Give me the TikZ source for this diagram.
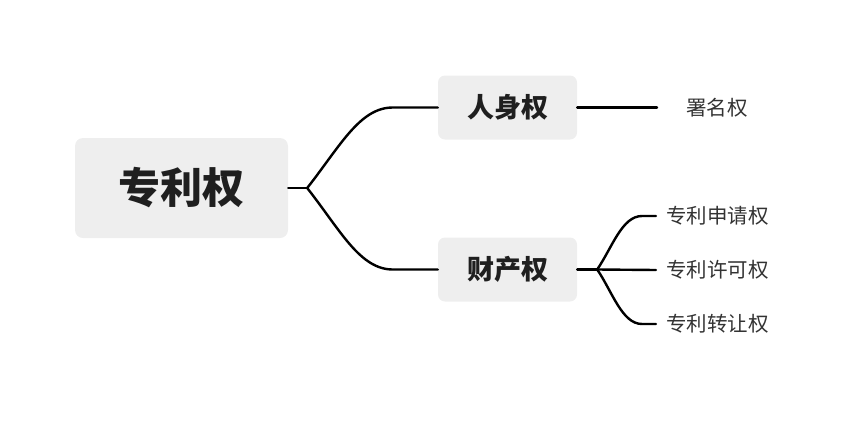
\documentclass[tikz,border=0pt]{standalone}
\usepackage{fontspec}
\setmainfont{Noto Sans CJK SC}
\definecolor{boxfill}{HTML}{EEEEEE}
\definecolor{boxtext}{HTML}{1F1F1F}
\definecolor{leaftext}{HTML}{333333}
\tikzset{
  rootbox/.style={fill=boxfill, rounded corners=8pt, minimum width=213pt, minimum height=100pt, inner sep=0pt,
    text=boxtext, font=\fontsize{42}{48}\selectfont\bfseries},
  subbox/.style={fill=boxfill, rounded corners=7pt, minimum width=139pt, minimum height=64pt, inner sep=0pt,
    text=boxtext, font=\fontsize{27}{32}\selectfont\bfseries},
  leaf/.style={anchor=west, inner sep=0pt, text=leaftext, font=\fontsize{20.5}{24}\selectfont},
  link/.style={draw=black, line width=2.4pt, line cap=round, line join=round}
}
\begin{document}
\begin{tikzpicture}[x=1pt,y=-1pt]
\useasboundingbox (0,0) rectangle (855,421);
\node[rootbox] (root) at (181.5,188) {专利权};
\node[subbox] (p1) at (507.5,107.5) {人身权};
\node[subbox] (p2) at (507.5,269.5) {财产权};
\node[leaf] (l0) at (686,107.5) {署名权};
\node[leaf] (l1) at (666,216) {专利申请权};
\node[leaf] (l2) at (666,270) {专利许可权};
\node[leaf] (l3) at (666,324) {专利转让权};
\coordinate (b1) at ([xshift=19pt]root.east);
\coordinate (b2) at ([xshift=20pt]p2.east);
% root branches
\draw[link] (root.east) -- (b1);
\draw[link] (b1) .. controls +(33,-42) and +(-33,0) .. ([xshift=-45pt]p1.west) -- (p1.west);
\draw[link] (b1) .. controls +(33,42) and +(-33,0) .. ([xshift=-45pt]p2.west) -- (p2.west);
% personal right
\draw[link] (p1.east) -- ([xshift=-29pt]l0.west);
% property right
\draw[link] (p2.east) -- (b2);
\draw[link] (b2) .. controls +(15,-22) and +(-20,0) .. ([xshift=-24pt]l1.west) -- ([xshift=-10pt]l1.west);
\draw[link] (b2) -- ([xshift=-10pt]l2.west);
\draw[link] (b2) .. controls +(15,22) and +(-20,0) .. ([xshift=-24pt]l3.west) -- ([xshift=-10pt]l3.west);
\end{tikzpicture}
\end{document}
